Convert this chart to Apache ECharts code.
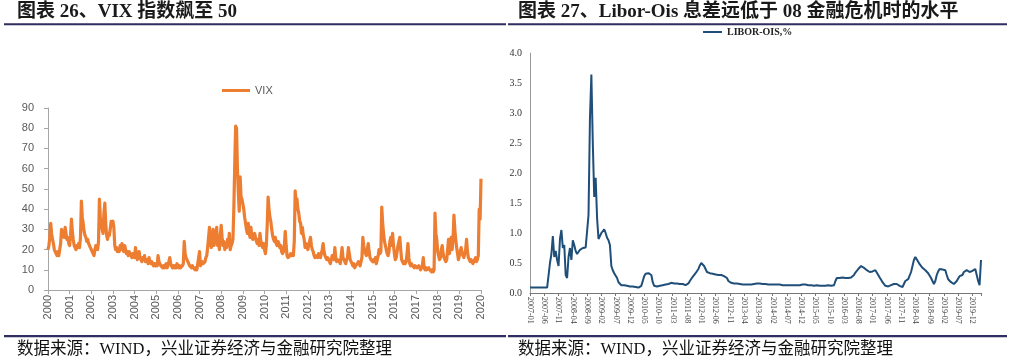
<!DOCTYPE html>
<html><head><meta charset="utf-8">
<script src="https://cdn.jsdelivr.net/npm/echarts@6/dist/echarts.min.js"></script>
<style>html,body{margin:0;padding:0;background:#fff}#c{width:1014px;height:359px}</style>
</head><body><div id="c"></div>
<script>
// ---- Chart 26: VIX, half-monthly samples along the axis from 2000 to 2020 ----
const vixYearLabels = ['2000','2001','2002','2003','2004','2005','2006','2007','2008','2009','2010',
  '2011','2012','2013','2014','2015','2016','2017','2018','2019','2020'];
const vixHalfMonthly = [
  20,22,26,33,28,25,23,20,19,18,17,19,17,20,23,30,27,29,26,31,28,25,26,23,
  22,27,35,29,25,22,21,20,22,21,23,21,26,44,36,33,29,27,26,24,25,23,22,21,
  21,19,18,17,20,22,21,20,24,45,36,33,30,28,38,43,33,27,25,28,27,30,34,32,
  34,31,22,20,21,19,20,19,22,20,23,20,19,22,20,18,19,17,19,18,17,16,18,17,
  16,21,17,15,16,19,16,15,14,16,15,17,14,14,15,13,16,14,13,14,13,12,13,12,
  13,12,17,14,13,12,12,11,12,11,12,13,11,12,14,16,13,12,11,12,11,12,11,13,
  12,11,12,11,11,12,13,24,18,16,15,14,13,12,12,11,12,11,11,10,11,10,10,10,
  19,12,13,14,13,13,14,16,17,21,26,31,24,21,25,30,22,24,27,31,22,24,20,27,
  32,26,22,24,20,23,21,25,22,28,20,22,23,25,40,62,81,80,60,48,39,56,46,45,
  45,40,36,33,30,28,33,28,26,31,26,25,27,28,26,24,23,25,22,28,24,22,21,23,
  20,18,22,32,46,40,36,34,30,27,25,24,26,23,22,24,23,21,22,19,18,19,22,29,
  22,17,16,16,17,18,17,18,17,24,49,44,45,40,38,34,33,28,31,27,25,21,23,22,
  20,22,24,26,22,20,19,17,16,16,17,16,18,17,16,18,20,23,19,17,16,15,16,15,
  14,13,15,17,16,15,21,16,14,15,15,14,13,17,21,16,15,14,13,15,16,21,18,15,
  14,13,12,13,11,12,12,13,14,13,12,14,16,26,22,19,18,17,20,23,19,16,15,15,
  14,15,14,16,13,15,17,20,18,19,41,33,28,24,22,20,18,17,19,24,26,22,28,22,
  18,15,16,19,22,24,26,20,15,14,13,14,13,14,18,23,16,13,12,13,12,12,11,12,
  12,11,11,12,11,10,11,12,16,11,10,11,10,10,11,10,10,9,10,9,10,38,28,25,
  19,17,15,16,20,22,18,16,15,14,15,20,25,18,22,26,20,25,37,30,25,21,18,15,
  17,19,21,18,17,16,18,20,25,19,16,15,14,15,14,13,14,15,16,14,15,17,40,35,
  55
];
const vixTicks = [0,10,20,30,40,50,60,70,80,90];

// ---- Chart 27: LIBOR-OIS (%), half-monthly from 2007-01 ----
const liborTickLabels = ['2007-01','2007-06','2007-11','2008-04','2008-09','2009-02','2009-07','2009-12',
  '2010-05','2010-10','2011-03','2011-08','2012-01','2012-06','2012-11','2013-04','2013-09','2014-02',
  '2014-07','2014-12','2015-05','2015-10','2016-03','2016-08','2017-01','2017-06','2017-11','2018-04',
  '2018-09','2019-02','2019-07','2019-12'];
const liborHalfMonthly = [
  .09,.09,.09,.12,.09,.09,.09,.09,.09,.09,.09,.09,.09,.1,.5,.65,.95,.6,.7,.55,.45,.9,1.05,.75,
  .8,.3,.25,.6,.75,.55,.88,.8,.7,.65,.68,.72,.73,.75,.76,.76,.78,1.3,2.9,3.64,2.5,1.6,1.92,1.25,
  .9,.95,1.0,1.02,1.06,1.0,.92,.88,.8,.45,.38,.33,.3,.25,.18,.15,.13,.13,.13,.13,.12,.12,.11,.11,
  .11,.1,.1,.1,.09,.08,.12,.2,.28,.32,.33,.33,.32,.3,.18,.12,.1,.11,.12,.12,.12,.13,.13,.14,
  .14,.15,.15,.17,.17,.16,.16,.16,.15,.15,.15,.15,.14,.13,.13,.16,.2,.23,.27,.3,.33,.36,.4,.46,
  .5,.48,.45,.4,.35,.34,.33,.32,.32,.32,.31,.3,.3,.3,.3,.3,.28,.27,.25,.2,.17,.17,.16,.16,
  .16,.16,.15,.15,.15,.14,.14,.14,.14,.14,.14,.14,.15,.15,.15,.16,.17,.16,.16,.15,.15,.15,.14,.14,
  .14,.14,.14,.14,.14,.14,.14,.14,.13,.13,.13,.13,.13,.13,.13,.13,.13,.13,.13,.13,.13,.13,.13,.14,
  .14,.14,.14,.13,.13,.13,.13,.12,.12,.13,.12,.12,.12,.12,.11,.12,.1,.13,.11,.12,.12,.13,.2,.25,
  .25,.25,.25,.26,.25,.25,.26,.25,.24,.26,.28,.3,.34,.37,.4,.42,.45,.44,.42,.4,.38,.36,.35,.34,
  .36,.38,.38,.35,.3,.26,.22,.18,.15,.12,.1,.11,.13,.13,.14,.15,.15,.15,.14,.12,.11,.1,.15,.2,
  .22,.23,.26,.35,.45,.55,.6,.57,.52,.48,.45,.42,.4,.38,.36,.33,.3,.25,.2,.15,.2,.3,.36,.4,
  .38,.39,.37,.38,.3,.23,.21,.18,.17,.15,.18,.2,.24,.28,.3,.3,.35,.34,.38,.36,.35,.36,.37,.36,
  .4,.3,.2,.13,.55
];

const vixData = vixHalfMonthly.map((v, i) => [2000 + i / 24, v]);
const liborData = liborHalfMonthly.map((v, i) => [i / 2, v]);

const chart = echarts.init(document.getElementById('c'), null, {renderer: 'canvas'});
const TF = '"Liberation Serif", "Noto Sans CJK SC", serif';
const navy = '#2f2d62';

chart.setOption({
  animation: false,
  backgroundColor: '#ffffff',
  legend: [
    {data: ['VIX'], left: 222, top: 85, padding: 0, icon: 'rect', itemWidth: 28, itemHeight: 3,
     textStyle: {fontSize: 11, fontFamily: '"Liberation Sans", sans-serif', color: '#595959'}},
    {data: ['LIBOR-OIS,%'], left: 703, top: 27, padding: 0, icon: 'rect', itemWidth: 19, itemHeight: 2,
     textStyle: {fontSize: 10, fontFamily: '"Liberation Serif", serif', fontWeight: 'bold', color: '#222'}}
  ],
  grid: [
    {left: 48, top: 108, width: 433, height: 182},
    {left: 530, top: 53, width: 451, height: 240}
  ],
  xAxis: [
    {type: 'value', gridIndex: 0, min: 2000, max: 2020, interval: 1,
     axisLine: {show: true, lineStyle: {color: '#a6a6a6', width: 1}},
     axisTick: {show: true, length: 4, lineStyle: {color: '#a6a6a6'}},
     splitLine: {show: false},
     axisLabel: {rotate: 90, margin: 5, fontSize: 11, fontFamily: '"Liberation Sans", sans-serif', color: '#595959',
       formatter: v => vixYearLabels[Math.round(v - 2000)] || ''}},
    {type: 'value', gridIndex: 1, min: 0, max: 158, interval: 5,
     axisLine: {show: true, lineStyle: {color: '#777', width: 1}},
     axisTick: {show: true, length: 3, lineStyle: {color: '#777'}},
     splitLine: {show: false},
     axisLabel: {rotate: -90, margin: 4, fontSize: 8, fontFamily: '"Liberation Serif", serif', color: '#444',
       formatter: v => (v % 5 === 0 ? (liborTickLabels[v / 5] || '') : '')}}
  ],
  yAxis: [
    {type: 'value', gridIndex: 0, min: vixTicks[0], max: vixTicks[vixTicks.length - 1], interval: 10,
     axisLine: {show: true, lineStyle: {color: '#a6a6a6', width: 1}},
     axisTick: {show: true, length: 4, lineStyle: {color: '#a6a6a6'}},
     splitLine: {show: false},
     axisLabel: {margin: 14, fontSize: 11, fontFamily: '"Liberation Sans", sans-serif', color: '#595959'}},
    {type: 'value', gridIndex: 1, min: 0, max: 4, interval: 0.5,
     axisLine: {show: true, lineStyle: {color: '#999', width: 1}},
     axisTick: {show: false},
     splitLine: {show: false},
     axisLabel: {margin: 8, fontSize: 10, fontFamily: '"Liberation Serif", serif', color: '#333',
       formatter: v => v.toFixed(1)}}
  ],
  series: [
    {name: 'VIX', type: 'line', xAxisIndex: 0, yAxisIndex: 0, data: vixData, showSymbol: false,
     color: '#ED7D31', lineStyle: {color: '#ED7D31', width: 3.2, join: 'round'}},
    {name: 'LIBOR-OIS,%', type: 'line', xAxisIndex: 1, yAxisIndex: 1, data: liborData, showSymbol: false,
     color: '#1f4e79', lineStyle: {color: '#1f4e79', width: 2}}
  ],
  graphic: [
    {type: 'text', x: 17, y: 12, style: {text: '图表 26、VIX 指数飙至 50', fontSize: 19, fontWeight: 'bold', fontFamily: TF, fill: '#1a1a1a', verticalAlign: 'middle'}},
    {type: 'text', x: 518, y: 12, style: {text: '图表 27、Libor-Ois 息差远低于 08 金融危机时的水平', fontSize: 19, fontWeight: 'bold', fontFamily: TF, fill: '#1a1a1a', verticalAlign: 'middle'}},
    {type: 'line', shape: {x1: 4, y1: 24.3, x2: 506, y2: 24.3}, style: {stroke: navy, lineWidth: 2}},
    {type: 'line', shape: {x1: 508, y1: 24.3, x2: 1007, y2: 24.3}, style: {stroke: navy, lineWidth: 2}},
    {type: 'line', shape: {x1: 4, y1: 336.2, x2: 506, y2: 336.2}, style: {stroke: navy, lineWidth: 2.2}},
    {type: 'line', shape: {x1: 508, y1: 336.2, x2: 1007, y2: 336.2}, style: {stroke: navy, lineWidth: 2.2}},
    {type: 'text', x: 17, y: 350, style: {text: '数据来源：WIND，兴业证券经济与金融研究院整理', fontSize: 16.5, fontFamily: TF, fill: '#111', verticalAlign: 'middle'}},
    {type: 'text', x: 518, y: 350, style: {text: '数据来源：WIND，兴业证券经济与金融研究院整理', fontSize: 16.5, fontFamily: TF, fill: '#111', verticalAlign: 'middle'}}
  ]
});
</script>
</body></html>
